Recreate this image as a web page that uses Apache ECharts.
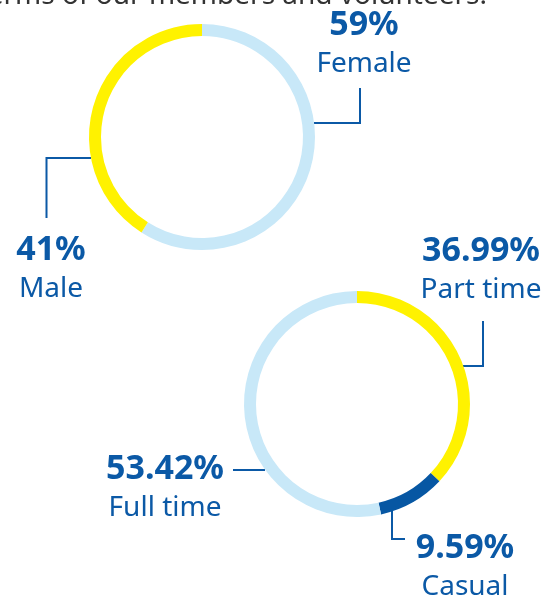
<!DOCTYPE html>
<html>
<head>
<meta charset="utf-8">
<style>
html,body{margin:0;padding:0;background:#fff;}
#chart{width:550px;height:597px;}
</style>
<script src="https://cdn.jsdelivr.net/npm/echarts@6/dist/echarts.min.js"></script>
</head>
<body>
<div id="chart"></div>
<script>
// ---- data ----
var headingText = 'terms of our members and volunteers.';
var genderNames = ['Female', 'Male'];
var genderValues = [59, 41];
var genderLabels = ['59%', '41%'];
var employmentNames = ['Part time', 'Casual', 'Full time'];
var employmentValues = [36.99, 9.59, 53.42];
var employmentLabels = ['36.99%', '9.59%', '53.42%'];

// ---- styling ----
var TEXT_BLUE = '#0B59A6';
var YELLOW = '#FFF200';
var LIGHT = '#C8E8F8';
var DARK = '#0757A3';
var FONT = '"Noto Sans"';

var genderColors = [LIGHT, YELLOW];
var employmentColors = [YELLOW, DARK, LIGHT];

// label placement (layout, not data)
var genderLayout = [
  {x: 364, y: 45, line: [[314, 123], [360, 123], [360, 88]]},
  {x: 51, y: 270, line: [[91, 158], [46.5, 158], [46.5, 218]]}
];
var employmentLayout = [
  {x: 481, y: 271, line: [[463, 366], [483, 366], [483, 321]]},
  {x: 465, y: 568, line: [[392, 511], [392, 539], [405, 539]]},
  {x: 165, y: 489, line: [[265, 470], [249, 470], [233, 470]]}
];

function buildData(names, values, labels, colors) {
  return names.map(function (n, i) {
    return {name: n, value: values[i], pct: labels[i], itemStyle: {color: colors[i]}};
  });
}

function makeSeries(names, values, labels, colors, center, layout) {
  var data = buildData(names, values, labels, colors);
  return {
    type: 'pie',
    radius: [101, 113],
    center: center,
    startAngle: 90,
    clockwise: true,
    silent: true,
    avoidLabelOverlap: false,
    itemStyle: {borderWidth: 0},
    emphasis: {disabled: true},
    data: data,
    label: {
      show: true,
      position: 'outside',
      formatter: function (p) {
        return '{v|' + labels[p.dataIndex] + '}\n{n|' + p.name + '}';
      },
      rich: {
        v: {fontFamily: FONT, fontWeight: 'bold', fontSize: 34, color: TEXT_BLUE, lineHeight: 39, align: 'center'},
        n: {fontFamily: FONT, fontWeight: 'normal', fontSize: 28, color: TEXT_BLUE, lineHeight: 39, align: 'center'}
      }
    },
    labelLine: {
      show: true,
      lineStyle: {color: TEXT_BLUE, width: 2}
    },
    labelLayout: function (params) {
      var l = layout[params.dataIndex];
      return {
        x: l.x,
        y: l.y,
        align: 'center',
        verticalAlign: 'middle',
        labelLinePoints: l.line
      };
    }
  };
}

var chart = echarts.init(document.getElementById('chart'), null, {renderer: 'canvas'});
chart.setOption({
  animation: false,
  backgroundColor: '#ffffff',
  graphic: [{
    type: 'text',
    x: 487,
    y: -4,
    z: -10,
    silent: true,
    style: {
      text: headingText,
      fontFamily: FONT,
      fontSize: 28,
      fill: '#333333',
      align: 'right',
      verticalAlign: 'middle'
    }
  }],
  series: [
    makeSeries(genderNames, genderValues, genderLabels, genderColors, [202, 137], genderLayout),
    makeSeries(employmentNames, employmentValues, employmentLabels, employmentColors, [357, 404], employmentLayout)
  ]
});
</script>
</body>
</html>
